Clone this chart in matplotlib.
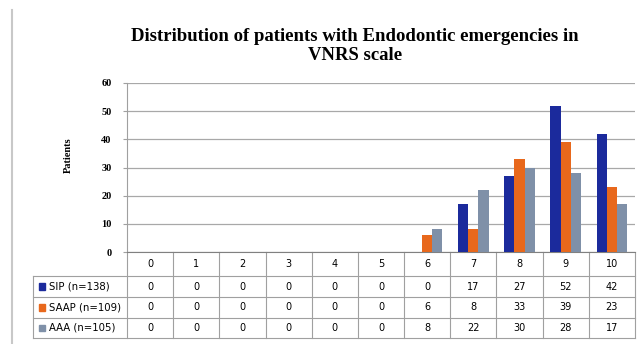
import numpy as np
import matplotlib
matplotlib.use("Agg")
import matplotlib.pyplot as plt
from matplotlib.lines import Line2D
from matplotlib.patches import Rectangle
from matplotlib.transforms import blended_transform_factory

# VNRS score categories and patient counts per group
categories = ["0", "1", "2", "3", "4", "5", "6", "7", "8", "9", "10"]
series_names = ["SIP (n=138)", "SAAP (n=109)", "AAA (n=105)"]
sip = [0, 0, 0, 0, 0, 0, 0, 17, 27, 52, 42]
saap = [0, 0, 0, 0, 0, 0, 6, 8, 33, 39, 23]
aaa = [0, 0, 0, 0, 0, 0, 8, 22, 30, 28, 17]
colors = ["#1b2a9c", "#e8681c", "#7f90a8"]

W, H = 637, 344
fig = plt.figure(figsize=(W / 100, H / 100), dpi=100)
ax = fig.add_axes([127 / W, 1 - 252 / H, 508 / W, 169 / H])

x = np.arange(len(categories))
bw = 0.22
for k, vals in enumerate([sip, saap, aaa]):
    ax.bar(x + (k - 1) * bw, vals, width=bw, color=colors[k], zorder=3)

ax.set_xlim(-0.5, len(categories) - 0.5)
ax.set_ylim(0, 60)
ax.set_yticks(range(0, 61, 10))
ax.set_xticks([])
ax.grid(axis="y", color="#a8a8a8", lw=0.9, zorder=0)
for s in ["top", "right"]:
    ax.spines[s].set_visible(False)
ax.spines["left"].set_color("#a0a0a0")
ax.spines["bottom"].set_color("#808080")
ax.tick_params(axis="y", length=3, color="#a0a0a0", pad=8, labelsize=7.5)
for lab in ax.get_yticklabels():
    lab.set_fontfamily("Liberation Serif")
    lab.set_fontweight("bold")

# data table below the plot
trans = blended_transform_factory(ax.transData, ax.transAxes)
def fy(px):
    return (252 - px) / 169.0

row_edges = [fy(276), fy(297), fy(318), fy(338)]
left = -0.5 - 94 / (508 / len(categories))
right = len(categories) - 0.5
lc = "#a0a0a0"
for y in row_edges:
    ax.add_line(Line2D([left, right], [y, y], transform=trans, color=lc, lw=0.8, clip_on=False))
for xe in np.arange(-0.5, len(categories), 1.0):
    ax.add_line(Line2D([xe, xe], [0, row_edges[-1]], transform=trans, color=lc, lw=0.8, clip_on=False))
ax.add_line(Line2D([left, left], [row_edges[0], row_edges[-1]], transform=trans, color=lc, lw=0.8, clip_on=False))

tkw = dict(transform=trans, ha="center", va="center", fontsize=7, family="DejaVu Sans", clip_on=False)
hy = (0 + row_edges[0]) / 2
for i, c in enumerate(categories):
    ax.text(i, hy, c, **tkw)
for r, vals in enumerate([sip, saap, aaa]):
    yc = (row_edges[r] + row_edges[r + 1]) / 2
    for i, v in enumerate(vals):
        ax.text(i, yc, str(v), **tkw)
    ax.add_patch(Rectangle((left + 0.14, yc - 0.02), 0.12, 0.04, transform=trans,
                           color=colors[r], clip_on=False))
    ax.text(left + 0.34, yc, series_names[r], transform=trans, ha="left", va="center",
            fontsize=7.3, family="DejaVu Sans", clip_on=False)

fig.text(355 / W, 1 - 46 / H, "Distribution of patients with Endodontic emergencies in\nVNRS scale",
         ha="center", va="center", fontsize=13.5, family="Liberation Serif", weight="bold", linespacing=1.2)
fig.text(68 / W, 1 - 155 / H, "Patients", rotation=90, ha="center", va="center",
         fontsize=7.5, family="Liberation Serif", weight="bold")
fig.add_artist(Line2D([12 / W, 12 / W], [0, 1 - 10 / H], transform=fig.transFigure, color="#c8c8c8", lw=1.5))

fig.savefig("out.png", dpi=100)
